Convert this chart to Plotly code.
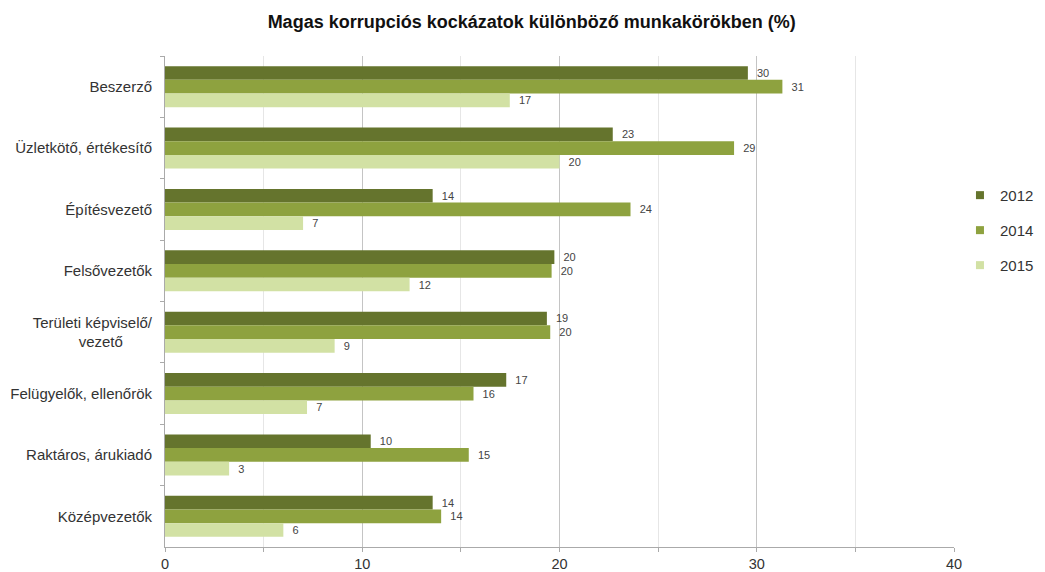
import plotly.graph_objects as go

categories = [
    "Beszerző",
    "Üzletkötő, értékesítő",
    "Építésvezető",
    "Felsővezetők",
    "Területi képviselő/<br>vezető" + "\u00a0" * 7,
    "Felügyelők, ellenőrök",
    "Raktáros, árukiadó",
    "Középvezetők",
]
years = ["2012", "2014", "2015"]
values_2012 = [29.55, 22.7, 13.57, 19.74, 19.36, 17.3, 10.43, 13.57]
values_2014 = [31.3, 28.85, 23.6, 19.6, 19.53, 15.64, 15.4, 14.0]
values_2015 = [17.48, 20.0, 7.0, 12.4, 8.6, 7.2, 3.25, 6.0]
colors = ["#65742d", "#8ea23f", "#d2e1a4"]
x_ticks = [0, 10, 20, 30, 40]

series = [values_2012, values_2014, values_2015]

fig = go.Figure()
for yr, vals, col in zip(years, series, colors):
    fig.add_trace(go.Bar(
        y=categories, x=vals, orientation="h", name=yr,
        marker=dict(color=col, line=dict(width=0)),
        texttemplate="\u00a0\u00a0%{x:.0f}", textposition="outside",
        textfont=dict(size=11, color="#444", family="Liberation Sans, Arial"),
        cliponaxis=False, legendgroup=yr, showlegend=False,
    ))
# small square legend swatches
for yr, col in zip(years, colors):
    fig.add_trace(go.Scatter(
        x=[None], y=[None], mode="markers", name=yr, legendgroup=yr,
        marker=dict(symbol="square", size=8, color=col), hoverinfo="skip",
    ))

fig.update_layout(
    width=1037, height=564,
    margin=dict(l=157, r=91, t=48, b=25, autoexpand=False),
    paper_bgcolor="white", plot_bgcolor="white",
    barmode="group", bargap=0.33, bargroupgap=0,
    font=dict(family="Liberation Sans, Arial", size=15, color="#333"),
    title=dict(text="<b>Magas korrupciós kockázatok különböző munkakörökben (%)</b>",
               x=0.505, xanchor="center", y=0.975, yanchor="middle",
               yref="container", xref="container",
               font=dict(size=18, color="#111")),
    legend=dict(x=0.918, xanchor="left", y=0.697, yanchor="top",
                xref="container", yref="container",
                traceorder="grouped", tracegroupgap=12.5,
                font=dict(size=15, color="#333")),
    xaxis=dict(range=[0, 40], tickvals=x_ticks, showgrid=True, gridcolor="#c4c4c4",
               gridwidth=1, zeroline=False, showline=True, linecolor="#aaa",
               ticks="outside", ticklen=4, tickcolor="#aaa",
               tickfont=dict(size=14.5, color="#333"),
               minor=dict(dtick=5, showgrid=True, gridcolor="#e6e6e6", ticks="outside",
                          ticklen=4, tickcolor="#aaa")),
    yaxis=dict(autorange="reversed", showline=True, linecolor="#aaa",
               ticks="outside", tickson="boundaries", ticklen=4, tickcolor="#aaa",
               ticklabelstandoff=9,
               showgrid=False, tickfont=dict(size=15, color="#333")),
)

fig.write_html("out.html")
